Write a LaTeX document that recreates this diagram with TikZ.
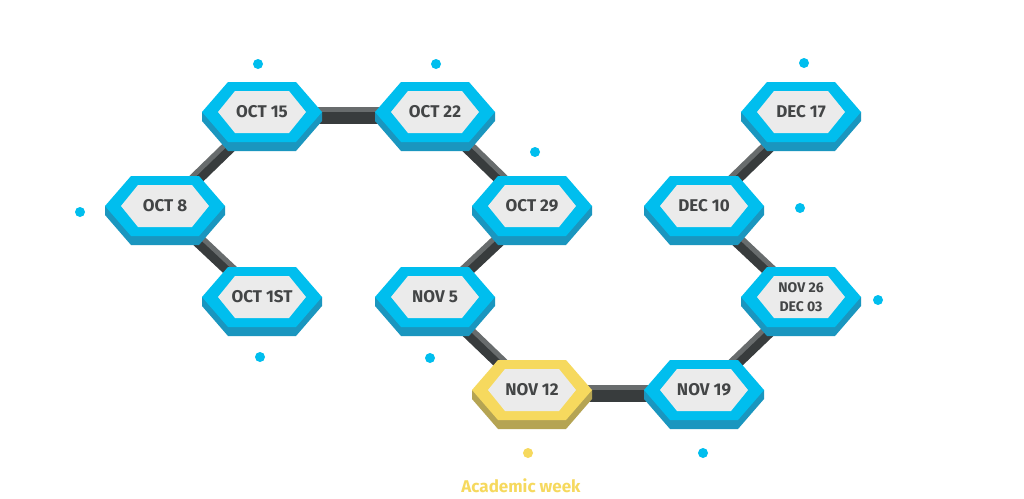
\documentclass[tikz,border=0pt]{standalone}
\usepackage{fontspec}
\setmainfont{Fira Sans}
\usetikzlibrary{backgrounds}
\definecolor{cytop}{HTML}{00BEEE}
\definecolor{cyside}{HTML}{1A96BF}
\definecolor{yetop}{HTML}{F6D95E}
\definecolor{yeside}{HTML}{B5A453}
\definecolor{innergray}{HTML}{EBEBEB}
\definecolor{txt}{HTML}{434546}
\definecolor{barlight}{HTML}{686C6D}
\definecolor{bardark}{HTML}{383C3D}
\newcommand\hexfont{\bfseries\fontsize{17}{19}\selectfont}
\newcommand\twolinefont{\bfseries\fontsize{14}{16}\selectfont}
\tikzset{
 hextext/.style={font=\hexfont, text=txt, inner sep=0pt, align=center},
 barside/.style={draw=bardark, line width=5pt},
 bartop/.style={draw=barlight, line width=5pt},
 dotc/.style={circle, fill=cytop, minimum size=10pt, inner sep=0pt},
 doty/.style={circle, fill=yetop, minimum size=10pt, inner sep=0pt},
}
\newcommand\hexbox[4]{%
 \begin{scope}[shift={(#2)}]
  \fill[#4side] (-60,0) -- (-60,-9) -- (-34,-39) -- (34,-39) -- (60,-9) -- (60,0) -- cycle;
  \fill[#4top] (-60,0) -- (-34,30) -- (34,30) -- (60,0) -- (34,-30) -- (-34,-30) -- cycle;
  \fill[innergray] (-44,0) -- (-27,21) -- (27,21) -- (44,0) -- (27,-21) -- (-27,-21) -- cycle;
 \end{scope}
 \node[hextext] (#1) at (#2) {#3};}
\newcommand\linkbar[2]{%
 \foreach \k in {1,2,...,12} {\draw[barside] ([yshift={(3-\k)*1pt}]#1.center) -- ([yshift={(3-\k)*1pt}]#2.center);}
 \draw[bartop] ([yshift=3pt]#1.center) -- ([yshift=3pt]#2.center);}
\begin{document}
\begin{tikzpicture}[x=1pt,y=1pt]
\useasboundingbox (0,0) rectangle (1024,-498);
\hexbox{oct8}{165,-206}{OCT 8}{cy}
\hexbox{oct1}{262,-297}{OCT 1ST}{cy}
\hexbox{oct15}{262,-112}{OCT 15}{cy}
\hexbox{oct22}{435,-112}{OCT 22}{cy}
\hexbox{oct29}{532,-206}{OCT 29}{cy}
\hexbox{nov5}{435,-297}{NOV 5}{cy}
\hexbox{nov12}{532,-390}{NOV 12}{ye}
\hexbox{nov19}{704,-390}{NOV 19}{cy}
\hexbox{nov26}{801,-297}{\twolinefont NOV 26\\\twolinefont DEC 03}{cy}
\hexbox{dec10}{704,-206}{DEC 10}{cy}
\hexbox{dec17}{801,-112}{DEC 17}{cy}
\node[dotc] (d1) at (258,-64) {};
\node[dotc] (d2) at (436,-64) {};
\node[dotc] (d3) at (80,-212) {};
\node[dotc] (d4) at (535,-152) {};
\node[dotc] (d5) at (260,-357) {};
\node[dotc] (d6) at (430,-358) {};
\node[doty] (d7) at (528,-453) {};
\node[dotc] (d8) at (703,-453) {};
\node[dotc] (d9) at (800,-208) {};
\node[dotc] (d10) at (804,-63) {};
\node[dotc] (d11) at (878,-300) {};
\node[font=\bfseries\fontsize{17}{19}\selectfont, text=yetop, inner sep=0pt] (acad) at (521,-486) {Academic week};
\begin{scope}[on background layer]
\fill[white] (0,0) rectangle (1024,-498);
\linkbar{oct1}{oct8}
\linkbar{oct8}{oct15}
\linkbar{oct15}{oct22}
\linkbar{oct22}{oct29}
\linkbar{oct29}{nov5}
\linkbar{nov5}{nov12}
\linkbar{nov12}{nov19}
\linkbar{nov19}{nov26}
\linkbar{nov26}{dec10}
\linkbar{dec10}{dec17}
\end{scope}
\end{tikzpicture}
\end{document}
